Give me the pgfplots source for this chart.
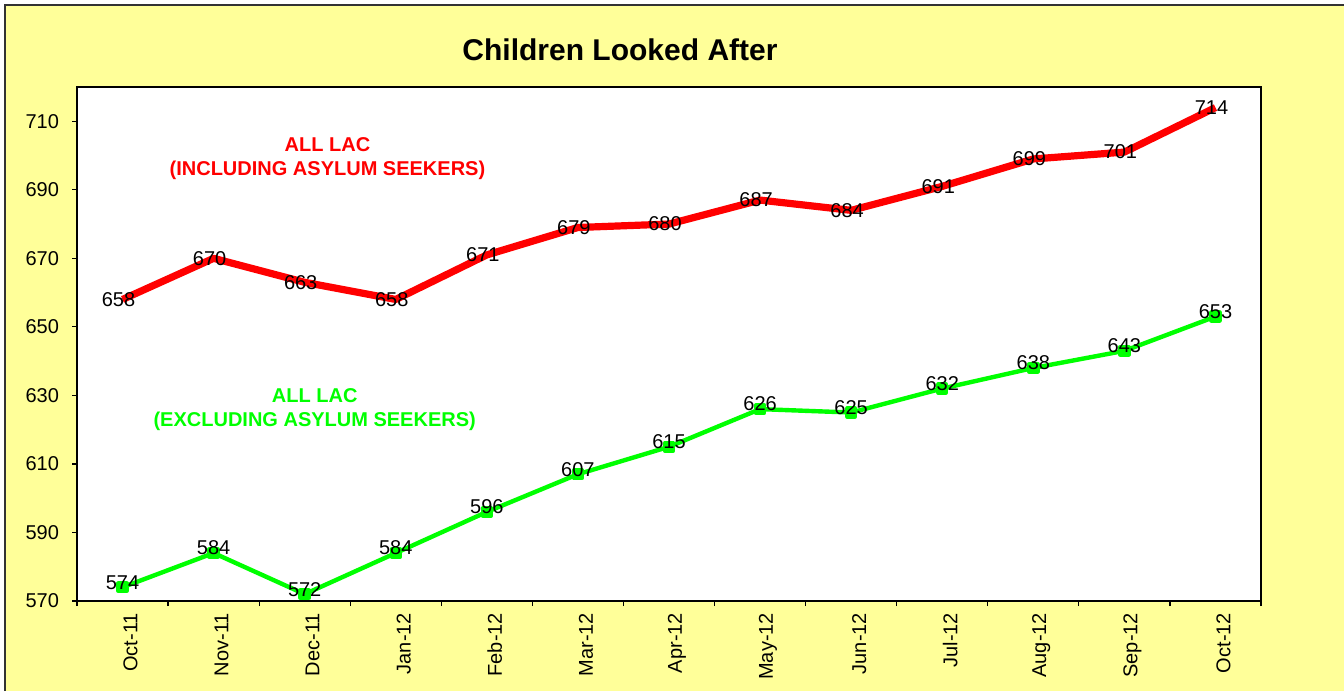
\documentclass[border=0pt]{standalone}
\usepackage{pgfplots}
\pgfplotsset{compat=1.18}
\usepackage{fontspec}
\setmainfont{Liberation Sans}
\definecolor{bgyellow}{HTML}{FFFF99}
\definecolor{lacred}{HTML}{FF0000}
\definecolor{lacgreen}{HTML}{00FF00}
\begin{document}
\begin{tikzpicture}
\fill[bgyellow] (2.5pt,0pt) rectangle (672pt,343pt);
\draw[black!80,line width=0.6pt] (2.5pt,0pt) -- (2.5pt,343pt) -- (672pt,343pt);
\node[font=\bfseries\fontsize{15}{18}\selectfont] at (310pt,320.5pt) {Children Looked After};
\begin{axis}[
  at={(38.5pt,45pt)}, anchor=south west,
  width=592pt, height=257pt, scale only axis,
  xmin=-0.5, xmax=12.5, ymin=570, ymax=720,
  axis background/.style={fill=white},
  axis line style={black, line width=0.6pt},
  xtick={0,...,12},
  xticklabels={Oct-11,Nov-11,Dec-11,Jan-12,Feb-12,Mar-12,Apr-12,May-12,Jun-12,Jul-12,Aug-12,Sep-12,Oct-12},
  major x tick style={draw=none},
  minor xtick={-0.5,0.5,...,12.5},
  minor tick length=2.5pt,
  ytick={570,590,...,710},
  major tick length=2.5pt,
  tick align=outside,
  tick style={black, line width=0.6pt},
  xtick pos=bottom, ytick pos=left,
  /pgf/number format/assume math mode=true,
  /pgf/number format/1000 sep={},
  tick label style={font=\fontsize{10}{12}\selectfont},
  xticklabel style={rotate=90, anchor=east, yshift=-4pt},
  yticklabel style={xshift=-3pt},
  clip=false,
  nodes near coords,
  nodes near coords style={font=\fontsize{10}{12}\selectfont, text=black},
]
\addplot[lacred, line width=3.6pt, line join=round, mark=none,
  every node near coord/.append style={anchor=center, xshift=-2pt}]
  coordinates {(0,658)(1,670)(2,663)(3,658)(4,671)(5,679)(6,680)(7,687)(8,684)(9,691)(10,699)(11,701)(12,714)};
\addplot[lacgreen, line width=2.2pt, line join=round, mark=square*, mark size=2pt,
  every node near coord/.append style={anchor=center, yshift=2.5pt}]
  coordinates {(0,574)(1,584)(2,572)(3,584)(4,596)(5,607)(6,615)(7,626)(8,625)(9,632)(10,638)(11,643)(12,653)};
\node[text=lacred, font=\bfseries\fontsize{10}{12}\selectfont, align=center] at (axis cs:2.25,699) {ALL LAC\\(INCLUDING ASYLUM SEEKERS)};
\node[text=lacgreen, font=\bfseries\fontsize{10}{12}\selectfont, align=center] at (axis cs:2.11,626) {ALL LAC\\(EXCLUDING ASYLUM SEEKERS)};
\end{axis}
\pgfresetboundingbox
\path[use as bounding box] (0pt,0pt) rectangle (672pt,345.5pt);
\end{tikzpicture}
\end{document}
